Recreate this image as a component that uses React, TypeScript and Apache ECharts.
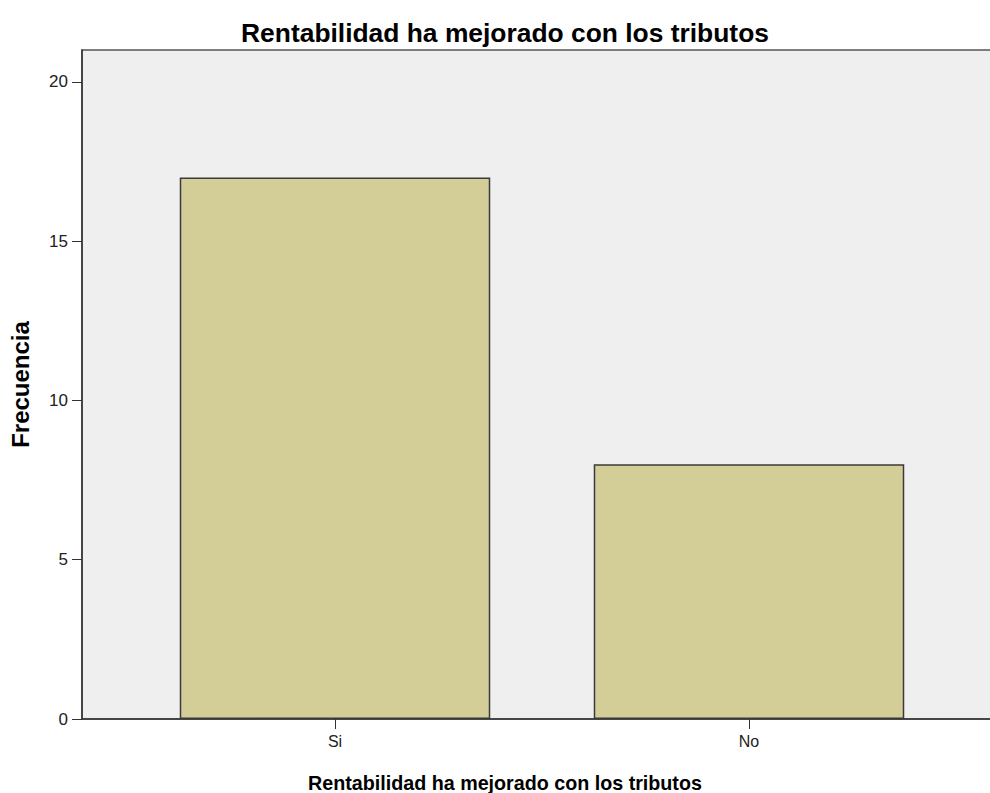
import React, { useEffect, useRef } from "react";
import * as echarts from "echarts";

const titleText = "Rentabilidad ha mejorado con los tributos";
const xAxisTitle = "Rentabilidad ha mejorado con los tributos";
const yAxisTitle = "Frecuencia";
const categories = ["Si", "No"];
const frequencies = [17, 8];
const yTicks = [0, 5, 10, 15, 20];
const yMin = 0;
const yMax = 21;
const yInterval = 5;

const FONT = "'Liberation Sans', Arial, sans-serif";

export default function App() {
  const ref = useRef<HTMLDivElement>(null);
  useEffect(() => {
    if (!ref.current) return;
    const chart = echarts.init(ref.current, undefined, { renderer: "svg" });
    const top = 50;
    const bottom = 74;
    chart.setOption({
      animation: false,
      backgroundColor: "#ffffff",
      title: [
        {
          text: titleText,
          left: 500,
          top: 15,
          textAlign: "center",
          textStyle: { fontFamily: FONT, fontSize: 26.4, fontWeight: "bold", color: "#000" },
        },
        {
          text: xAxisTitle,
          left: 500,
          top: 768,
          textAlign: "center",
          textStyle: { fontFamily: FONT, fontSize: 19.7, fontWeight: "bold", color: "#000" },
        },
      ],
      grid: [
        {
          left: 82,
          right: -3,
          top,
          bottom,
          show: true,
          backgroundColor: "#efefef",
          borderColor: "#555",
          borderWidth: 1.5,
          containLabel: false,
          outerBoundsMode: "none",
        },
        { left: 128, right: 34, top, bottom, containLabel: false, outerBoundsMode: "none" },
      ],
      xAxis: [
        {
          gridIndex: 0,
          type: "value",
          min: 0,
          max: 1,
          axisLine: { show: true, lineStyle: { color: "#333", width: 1.5 } },
          axisTick: { show: false },
          axisLabel: { show: false },
          splitLine: { show: false },
        },
        {
          gridIndex: 1,
          type: "category",
          data: categories,
          boundaryGap: true,
          axisLine: { show: false },
          axisTick: { show: true, alignWithLabel: true, length: 10, lineStyle: { color: "#333", width: 1 } },
          axisLabel: { fontFamily: FONT, fontSize: 16, color: "#222", margin: 14 },
          splitLine: { show: false },
        },
      ],
      yAxis: [
        {
          gridIndex: 0,
          type: "value",
          min: yMin,
          max: yMax,
          interval: yInterval,
          name: yAxisTitle,
          nameLocation: "middle",
          nameRotate: 90,
          nameGap: 50,
          nameTextStyle: { fontFamily: FONT, fontSize: 24, fontWeight: "bold", color: "#000" },
          axisLine: { show: true, lineStyle: { color: "#333", width: 1.5 } },
          axisTick: { show: true, length: 10, customValues: yTicks, lineStyle: { color: "#333", width: 1 } },
          axisLabel: {
            fontFamily: FONT,
            fontSize: 17,
            color: "#222",
            margin: 14,
            customValues: yTicks,
          },
          splitLine: { show: false },
        },
        {
          gridIndex: 1,
          type: "value",
          min: yMin,
          max: yMax,
          interval: yInterval,
          show: false,
        },
      ],
      series: [
        {
          type: "bar",
          xAxisIndex: 1,
          yAxisIndex: 1,
          data: frequencies,
          barWidth: "75%",
          itemStyle: { color: "#d3ce97", borderColor: "#3a3a3a", borderWidth: 1.5 },
        },
      ],
    });
    return () => chart.dispose();
  }, []);
  return (
    <div
      ref={ref}
      style={{ position: "fixed", left: 0, top: 0, width: 990, height: 793 }}
    />
  );
}
